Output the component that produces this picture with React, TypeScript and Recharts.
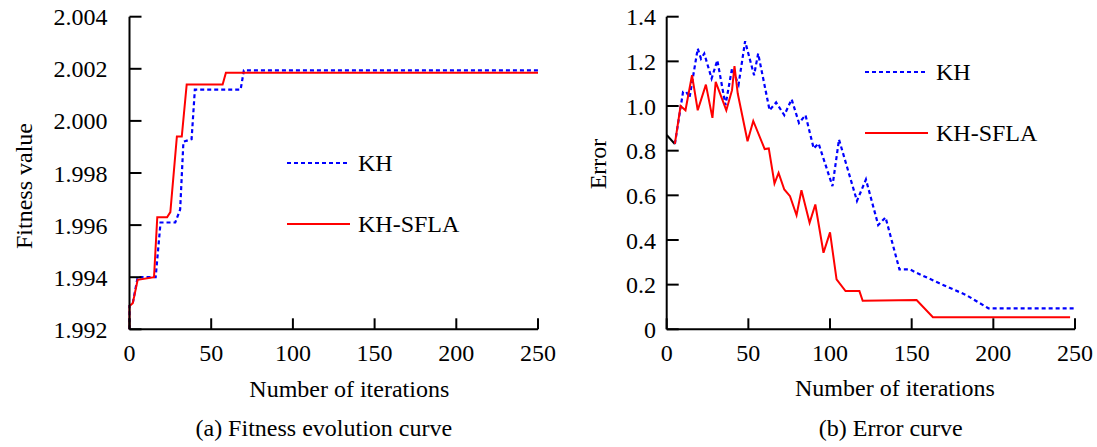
import React from 'react';
import { LineChart, Line, XAxis, YAxis, Legend } from 'recharts';

// ---------- shared ticks ----------
const iterTicks = [0, 50, 100, 150, 200, 250];
const fitnessTicks = [1.992, 1.994, 1.996, 1.998, 2.0, 2.002, 2.004];
const errorTicks = [0, 0.2, 0.4, 0.6, 0.8, 1.0, 1.2, 1.4];

// ---------- (a) fitness evolution ----------
const khFitIter = [0, 0, 2, 5, 16, 19, 28, 31, 33, 38, 40, 68, 70, 250];
const khFitVal = [1.992, 1.9929, 1.993, 1.994, 1.994, 1.9961, 1.9961, 1.9966, 1.9992, 1.9993, 2.0012, 2.0012, 2.00194, 2.00194];
const sflaFitIter = [0, 0, 2, 5, 15, 17, 23, 25, 29, 32, 35, 57, 59, 250];
const sflaFitVal = [1.992, 1.9929, 1.993, 1.9939, 1.994, 1.9963, 1.9963, 1.9965, 1.9994, 1.9994, 2.0014, 2.0014, 2.00185, 2.00185];

// ---------- (b) error ----------
const startErrIter = [0, 5];
const startErrVal = [0.87, 0.83];
const khErrIter = [5, 10, 12, 14, 19, 21, 23, 27.5, 31, 36, 40, 44, 48, 53.5, 56, 63, 67, 72, 76.5, 81, 85, 90, 93, 101.5, 105.5, 116.5, 122, 129.5, 134, 142.5, 149, 153, 167, 183.5, 197, 250];
const khErrVal = [0.83, 1.063, 1.063, 1.038, 1.257, 1.212, 1.235, 1.123, 1.205, 1.004, 1.168, 1.096, 1.29, 1.138, 1.235, 0.981, 1.016, 0.959, 1.03, 0.924, 0.959, 0.81, 0.832, 0.641, 0.85, 0.575, 0.671, 0.467, 0.501, 0.268, 0.268, 0.253, 0.206, 0.153, 0.094, 0.094];
const sflaErrIter = [5, 8.5, 11.5, 15.5, 19, 24, 28, 30, 36.5, 40, 41.5, 43.5, 49.5, 53, 60, 62.5, 66, 68.5, 72, 75.5, 79.5, 82.5, 87.5, 91, 96, 100, 104, 109.5, 118, 120, 153, 163, 247];
const sflaErrVal = [0.83, 1.0, 0.981, 1.138, 0.981, 1.096, 0.947, 1.108, 0.981, 1.071, 1.179, 1.056, 0.842, 0.933, 0.807, 0.81, 0.653, 0.7, 0.626, 0.596, 0.511, 0.623, 0.477, 0.559, 0.343, 0.434, 0.224, 0.171, 0.171, 0.128, 0.131, 0.054, 0.054];

const zip = (xs: number[], ys: number[]) => xs.map((x, i) => ({ x, y: ys[i] }));

const khFit = zip(khFitIter, khFitVal);
const sflaFit = zip(sflaFitIter, sflaFitVal);
const startErr = zip(startErrIter, startErrVal);
const khErr = zip(khErrIter, khErrVal);
const sflaErr = zip(sflaErrIter, sflaErrVal);

const FONT = 'Times New Roman';
const FS = 24;
const BLUE = '#0000ff';
const RED = '#ff0000';
const DASH = '4 3';

const tickStyle = { fill: '#000', fontSize: FS, fontFamily: FONT };

const LegendBox = () => (
  <div style={{ position: 'relative', width: 190, height: 90, fontFamily: FONT, fontSize: FS, color: '#000' }}>
    {[
      { name: 'KH', color: BLUE, dash: DASH, top: 0 },
      { name: 'KH-SFLA', color: RED, dash: undefined, top: 61 },
    ].map((r) => (
      <div key={r.name} style={{ position: 'absolute', left: 0, top: r.top, height: 26, width: 190 }}>
        <svg width={64} height={26} style={{ position: 'absolute', left: 0, top: 0 }}>
          <line x1={0} y1={13} x2={63} y2={13} stroke={r.color} strokeWidth={2.2} strokeDasharray={r.dash} />
        </svg>
        <span style={{ position: 'absolute', left: 71, top: 0, lineHeight: '26px', whiteSpace: 'nowrap' }}>{r.name}</span>
      </div>
    ))}
  </div>
);

export default function App() {
  return (
    <div style={{ position: 'absolute', left: 0, top: 0, width: 1097, height: 447, background: '#fff', overflow: 'hidden', fontFamily: FONT }}>
      {/* (a) */}
      <div style={{ position: 'absolute', left: 0, top: 0 }}>
        <LineChart width={560} height={447} margin={{ top: 16.7, right: 22, bottom: 87.7, left: 29.5 }} style={{ fontFamily: FONT }}>
          <XAxis
            type="number"
            dataKey="x"
            domain={[0, 250]}
            ticks={iterTicks}
            interval={0}
            height={30}
            axisLine={{ stroke: '#000', strokeWidth: 2 }}
            tickLine={{ stroke: '#000', strokeWidth: 2 }}
            tickSize={-11}
            tickMargin={26}
            tick={tickStyle}
          />
          <YAxis
            type="number"
            dataKey="y"
            domain={[1.992, 2.004]}
            ticks={fitnessTicks}
            interval={0}
            width={100}
            axisLine={{ stroke: '#000', strokeWidth: 2 }}
            tickLine={{ stroke: '#000', strokeWidth: 2 }}
            tickSize={-12}
            tickMargin={34}
            tick={tickStyle}
            tickFormatter={(v: number) => v.toFixed(3)}
          />
          <Legend
            layout="vertical"
            align="center"
            verticalAlign="middle"
            content={() => <LegendBox />}
            wrapperStyle={{ position: 'absolute', left: 287, top: 150, width: 190 }}
          />
          <Line data={khFit} dataKey="y" name="KH" type="linear" stroke={BLUE} strokeWidth={2.2} strokeDasharray={DASH} dot={false} isAnimationActive={false} />
          <Line data={sflaFit} dataKey="y" name="KH-SFLA" type="linear" stroke={RED} strokeWidth={2} dot={false} isAnimationActive={false} />
        </LineChart>
      </div>

      {/* (b) */}
      <div style={{ position: 'absolute', left: 560, top: 0 }}>
        <LineChart width={537} height={447} margin={{ top: 16.7, right: 22, bottom: 87.7, left: 26.7 }} style={{ fontFamily: FONT }}>
          <XAxis
            type="number"
            dataKey="x"
            domain={[0, 250]}
            ticks={iterTicks}
            interval={0}
            height={30}
            axisLine={{ stroke: '#000', strokeWidth: 2 }}
            tickLine={{ stroke: '#000', strokeWidth: 2 }}
            tickSize={-11}
            tickMargin={26}
            tick={tickStyle}
          />
          <YAxis
            type="number"
            dataKey="y"
            domain={[0, 1.4]}
            ticks={errorTicks}
            interval={0}
            width={80}
            axisLine={{ stroke: '#000', strokeWidth: 2 }}
            tickLine={{ stroke: '#000', strokeWidth: 2 }}
            tickSize={-12}
            tickMargin={22.7}
            tick={tickStyle}
            tickFormatter={(v: number) => (v === 0 ? '0' : v.toFixed(1))}
          />
          <Legend
            layout="vertical"
            align="center"
            verticalAlign="middle"
            content={() => <LegendBox />}
            wrapperStyle={{ position: 'absolute', left: 305, top: 59.3, width: 190 }}
          />
          <Line data={startErr} dataKey="y" name="start" type="linear" stroke="#000" strokeWidth={2} dot={false} isAnimationActive={false} legendType="none" />
          <Line data={khErr} dataKey="y" name="KH" type="linear" stroke={BLUE} strokeWidth={2.2} strokeDasharray={DASH} dot={false} isAnimationActive={false} />
          <Line data={sflaErr} dataKey="y" name="KH-SFLA" type="linear" stroke={RED} strokeWidth={2} dot={false} isAnimationActive={false} />
        </LineChart>
      </div>

      {/* titles and captions */}
      <svg width={1097} height={447} style={{ position: 'absolute', left: 0, top: 0, pointerEvents: 'none', fontFamily: FONT }}>
        <g fontFamily={FONT} fontSize={FS} fill="#000">
          <text x={349.3} y={397} textAnchor="middle">Number of iterations</text>
          <text x={323.8} y={436} textAnchor="middle">(a) Fitness evolution curve</text>
          <text transform="translate(24,186) rotate(-90)" textAnchor="middle" dominantBaseline="central">Fitness value</text>
          <text x={895} y={396} textAnchor="middle">Number of iterations</text>
          <text x={890.8} y={436} textAnchor="middle">(b) Error curve</text>
          <text transform="translate(598,164) rotate(-90)" textAnchor="middle" dominantBaseline="central">Error</text>
        </g>
      </svg>
    </div>
  );
}
